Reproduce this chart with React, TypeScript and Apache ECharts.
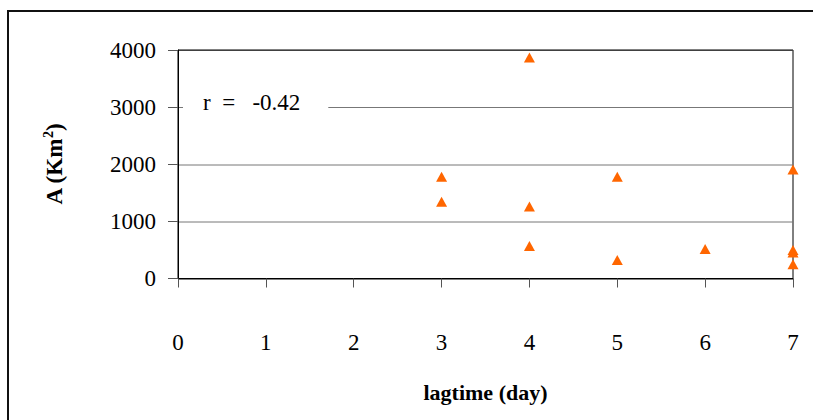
import React, { useEffect, useRef } from "react";
import * as echarts from "echarts";

const lagDays: number[] = [3, 3, 4, 4, 4, 5, 5, 6, 7, 7, 7, 7];
const areaKm2: number[] = [1780, 1345, 3870, 1260, 570, 1780, 325, 515, 1910, 500, 455, 250];
const xTicks: number[] = [0, 1, 2, 3, 4, 5, 6, 7];
const yTicks: number[] = [0, 1000, 2000, 3000, 4000];
const corrLabel = "r  =   -0.42";
const xTitle = "lagtime (day)";

const SERIF = "'Liberation Serif', 'Times New Roman', serif";

export default function App() {
  const ref = useRef<HTMLDivElement>(null);
  useEffect(() => {
    if (!ref.current) return;
    const chart = echarts.init(ref.current, undefined, { renderer: "svg" });
    const points = lagDays.map((d, i) => [d, areaKm2[i]]);
    chart.setOption({
      animation: false,
      backgroundColor: "#fff",
      grid: {
        left: 178,
        right: 20,
        top: 50,
        bottom: 141.5,
        show: true,
        borderColor: "#000",
        borderWidth: 1,
      },
      xAxis: {
        type: "value",
        min: xTicks[0],
        max: xTicks[xTicks.length - 1],
        interval: 1,
        name: xTitle,
        nameLocation: "middle",
        nameGap: 103,
        nameTextStyle: { fontFamily: SERIF, fontWeight: "bold", fontSize: 22, color: "#000" },
        axisLine: { show: true, onZero: false, lineStyle: { color: "#000", width: 1 } },
        axisTick: { show: true, inside: false, length: 9, lineStyle: { color: "#555" } },
        axisLabel: { margin: 52, fontFamily: SERIF, fontSize: 23, color: "#000", formatter: (v: number) => String(v) },
        splitLine: { show: false },
      },
      yAxis: {
        type: "value",
        min: yTicks[0],
        max: yTicks[yTicks.length - 1],
        interval: 1000,
        name: "A (Km{sup|2})",
        nameLocation: "middle",
        nameRotate: 90,
        nameGap: 110,
        nameTextStyle: {
          fontFamily: SERIF,
          fontWeight: "bold",
          fontSize: 23,
          color: "#000",
          rich: {
            sup: { fontFamily: SERIF, fontWeight: "bold", fontSize: 14, color: "#000", padding: [0, 0, 13, 0] },
          },
        },
        axisLine: { show: true, onZero: false, lineStyle: { color: "#000", width: 1 } },
        axisTick: { show: true, inside: false, length: 10, lineStyle: { color: "#555" } },
        axisLabel: { margin: 22, fontFamily: SERIF, fontSize: 23, color: "#000", formatter: (v: number) => String(v) },
        splitLine: {
          show: true,
          lineStyle: { color: ["#000", "#777", "#777", "#777", "#404040"], width: [1, 1, 1, 1, 2] as any },
        },
      },
      series: [
        {
          type: "scatter",
          data: points,
          symbol: "triangle",
          symbolSize: [11, 10],
          itemStyle: { color: "#FF6600", opacity: 1 },
        },
      ],
      graphic: [
        {
          type: "rect",
          shape: { x: 8, y: 11, width: 900, height: 600 },
          style: { fill: "none", stroke: "#111", lineWidth: 2 },
          silent: true,
        },
        {
          type: "text",
          x: 183,
          y: 102,
          style: {
            text: corrLabel,
            font: `23px ${SERIF}`,
            fill: "#000",
            verticalAlign: "middle",
            backgroundColor: "#fff",
            padding: [5, 28, 5, 20],
          },
          z: 100,
        },
      ],
    });
    return () => chart.dispose();
  }, []);
  return (
    <div
      ref={ref}
      style={{ position: "fixed", left: 0, top: 0, width: 813, height: 420, background: "#fff" }}
    />
  );
}
